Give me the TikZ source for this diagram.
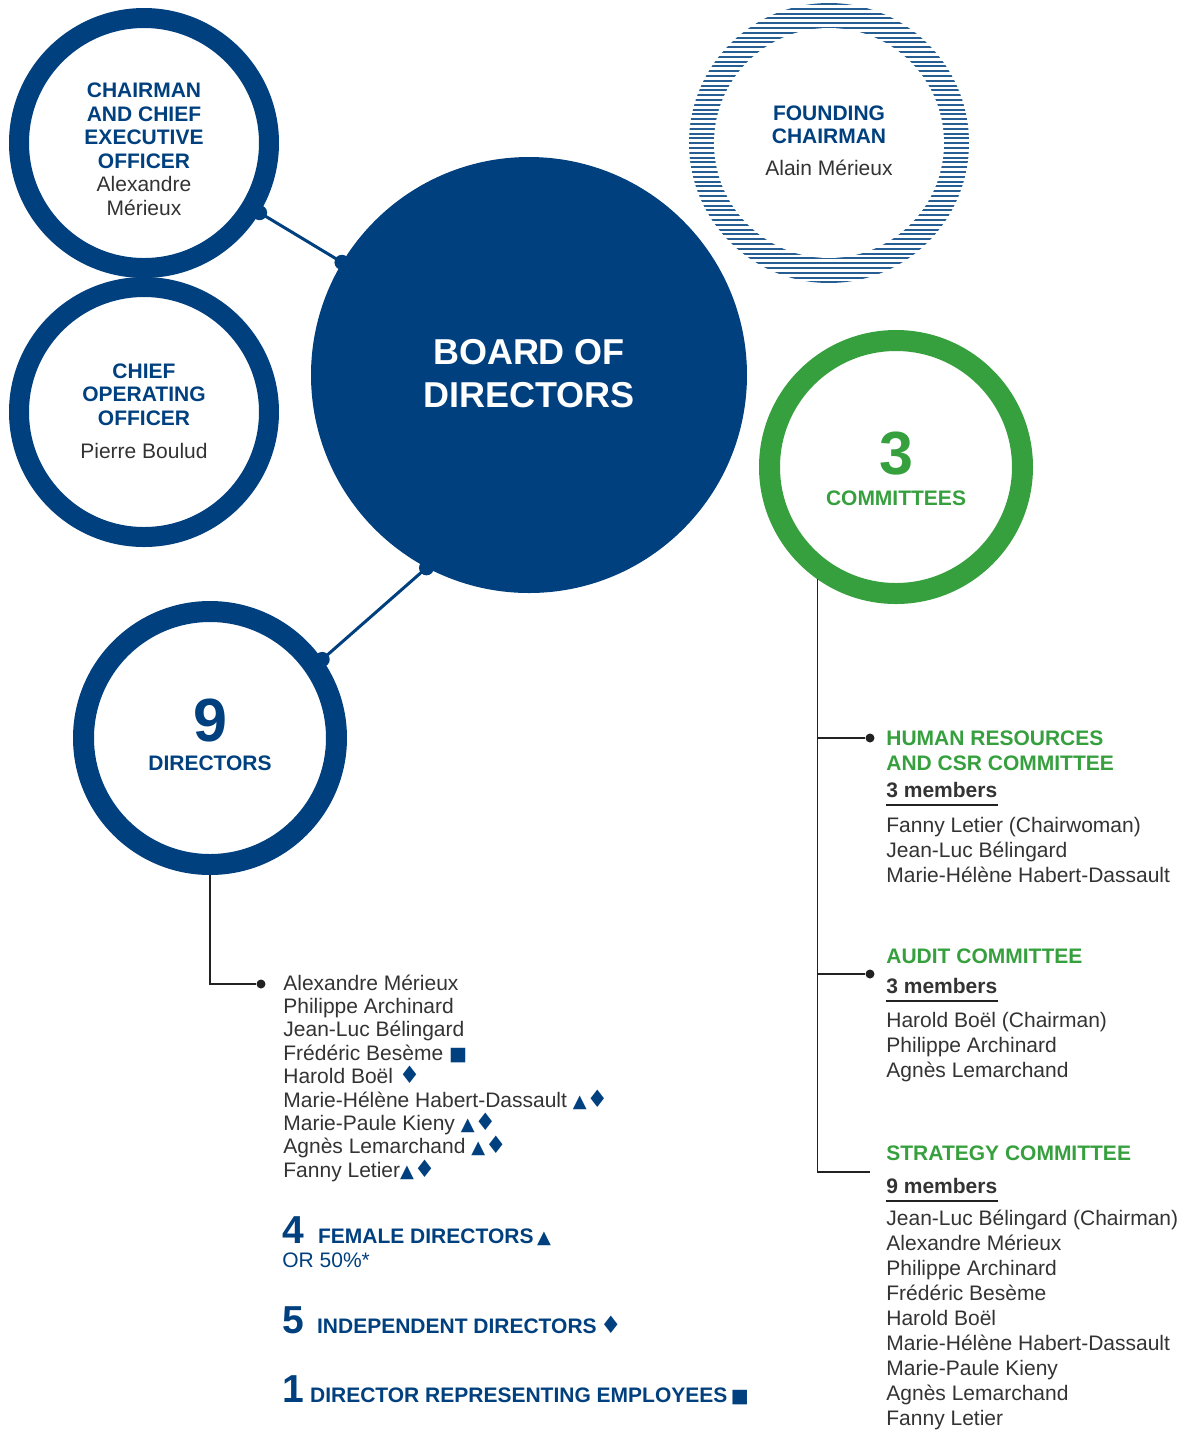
\documentclass[tikz,border=0pt]{standalone}
\usepackage{fontspec}
\setmainfont{Liberation Sans}
\newfontfamily\symfont{DejaVu Sans}
\usetikzlibrary{positioning}

\definecolor{boardblue}{HTML}{00407F}
\definecolor{comgreen}{HTML}{37A03E}
\definecolor{txtgray}{HTML}{333333}
\definecolor{linegray}{HTML}{222222}

% small markers after the names
\newcommand{\tri}{{\color{boardblue}\symfont\fontsize{9}{8}\selectfont ▲}}
\newcommand{\dia}{{\color{boardblue}\symfont\fontsize{12}{8}\selectfont ♦}}
\newcommand{\sqr}{{\color{boardblue}\symfont\fontsize{9.5}{8}\selectfont ■}}
\newcommand{\pers}[1]{{\mdseries\color{txtgray}#1}}
\newcommand{\bignum}[1]{{\fontsize{19.5}{20}\selectfont #1}}

\tikzset{
  ring/.style={circle, draw=boardblue, line width=10pt, fill=white, inner sep=0pt, minimum size=125pt},
  bigring/.style={ring, line width=10.5pt, minimum size=126.5pt},
  dot/.style={circle, fill=boardblue, inner sep=0pt, minimum size=7.5pt},
  smalldot/.style={circle, fill=linegray, inner sep=0pt, minimum size=4.5pt},
  link/.style={boardblue, line width=1.5pt},
  tree/.style={linegray, line width=0.75pt},
  stripe/.style={boardblue!85, line width=1pt},
  head/.style={font=\bfseries\fontsize{10.5}{11.75}\selectfont, text=boardblue, align=center, inner sep=0pt, anchor=base},
  plain/.style={font=\fontsize{10.5}{11.7}\selectfont, text=txtgray, align=left, inner sep=0pt, anchor=base west},
  comhead/.style={font=\bfseries\fontsize{10.5}{12.5}\selectfont, text=comgreen, align=left, inner sep=0pt, anchor=base west},
  members/.style={font=\bfseries\fontsize{10.5}{12.5}\selectfont, text=txtgray, inner sep=0pt, anchor=base west},
  memberlist/.style={plain, font=\fontsize{10.5}{12.5}\selectfont},
  stat/.style={font=\bfseries\fontsize{10.5}{12}\selectfont, text=boardblue, inner sep=0pt, anchor=base west},
}

\begin{document}
\begin{tikzpicture}[x=0.5pt, y=-0.5pt]
    \useasboundingbox[fill=white] (0,0) rectangle (1190,1432);

    % founding chairman, striped ring
    \begin{scope}
        \clip (829,143) circle (70pt);
        \foreach \k in {0,...,58} \draw[stripe] (680,{4+4.8*\k}) -- (980,{4+4.8*\k});
    \end{scope}
    \fill[white] (829,143) circle (57.5pt);
    % multi-line labels sit on the baseline of their last line
    \node[head] (found) at (829,175) {FOUNDING\\CHAIRMAN\\[4pt]\pers{Alain Mérieux}};

    % circles
    \node[ring] (ceo) at (144,143) {};
    \node[ring] (coo) at (144,412) {};
    \node[bigring] (dirs) at (210,738) {};
    \node[bigring, draw=comgreen] (com) at (896,467) {};
    \node[circle, fill=boardblue, inner sep=0pt, minimum size=218pt] (board) at (529,375) {};

    \node[head] (ceolbl) at (144,215) {CHAIRMAN\\AND CHIEF\\EXECUTIVE\\OFFICER\\\pers{Alexandre}\\\pers{Mérieux}};
    \node[head] (coolbl) at (144,458) {CHIEF\\OPERATING\\OFFICER\\[4.75pt]\pers{Pierre Boulud}};
    \node[head, text=white, font=\bfseries\fontsize{18}{21.5}\selectfont] (boardlbl) at (529,407) {BOARD OF\\DIRECTORS};
    \node[head, font=\bfseries\fontsize{30.5}{30}\selectfont] (dirnum) at (210,741) {9};
    \node[head] (dirlbl) at (210,770) {DIRECTORS};
    \node[head, text=comgreen, font=\bfseries\fontsize{30.5}{30}\selectfont] (comnum) at (896,474) {3};
    \node[head, text=comgreen] (comlbl) at (896,505) {COMMITTEES};

    % links to the board
    \draw[link] (ceo) -- (board) node[dot, pos=0] (ceodot) {} node[dot, pos=1] (bdot1) {};
    \draw[link] (dirs.35) -- (board.242) node[dot, pos=0] (dirsdot) {} node[dot, pos=1] (bdot2) {};

    % directors list
    \node[smalldot] (dirdot) at (261,984) {};
    \draw[tree] (dirs.south) |- (dirdot);
    \foreach \nm [count=\i] in {Alexandre Mérieux, Philippe Archinard, Jean-Luc Bélingard,
        Frédéric Besème \sqr, Harold Boël \dia, Marie-Hélène Habert-Dassault \tri\dia,
        Marie-Paule Kieny \tri\dia, Agnès Lemarchand \tri\dia, Fanny Letier\tri\dia}
        \node[plain] (dir\i) at (283,{990+23.4*(\i-1)}) {\nm};

    \node[stat] (fem) at (282,1243) {\bignum{4}\hspace{7pt}FEMALE DIRECTORS\,\tri};
    \node[plain, text=boardblue] (pct) at (282,1267) {OR 50\%*};
    \node[stat] (ind) at (282,1333) {\bignum{5}\hspace{6.5pt}INDEPENDENT DIRECTORS\,\dia};
    \node[stat] (emp) at (282,1402) {\bignum{1}\hspace{3pt}DIRECTOR REPRESENTING EMPLOYEES\,\sqr};

    % committees
    \node[smalldot] (hrdot) at (870,738) {};
    \node[smalldot] (audot) at (870,974) {};
    \coordinate (stend) at (870,1172);
    \draw[tree] (com.235) |- (hrdot);
    \draw[tree] (com.235) |- (audot);
    \draw[tree] (com.235) |- (stend);

    \node[comhead] (hrhead) at (886,770) {HUMAN RESOURCES\\AND CSR COMMITTEE};
    \node[members] (hrnum) at (886,797) {3 members};
    \draw[tree] ([yshift=-4pt]hrnum.base west) -- ([yshift=-4pt]hrnum.base east);
    \node[memberlist] (hrlist) at (886,882) {Fanny Letier (Chairwoman)\\Jean-Luc Bélingard\\Marie-Hélène Habert-Dassault};

    \node[comhead] (auhead) at (886,963) {AUDIT COMMITTEE};
    \node[members] (aunum) at (886,993) {3 members};
    \draw[tree] ([yshift=-4pt]aunum.base west) -- ([yshift=-4pt]aunum.base east);
    \node[memberlist] (aulist) at (886,1077) {Harold Boël (Chairman)\\Philippe Archinard\\Agnès Lemarchand};

    \node[comhead] (sthead) at (886,1160) {STRATEGY COMMITTEE};
    \node[members] (stnum) at (886,1193) {9 members};
    \draw[tree] ([yshift=-4pt]stnum.base west) -- ([yshift=-4pt]stnum.base east);
    \node[memberlist] (stlist) at (886,1425) {Jean-Luc Bélingard (Chairman)\\Alexandre Mérieux\\Philippe Archinard\\Frédéric Besème\\Harold Boël\\Marie-Hélène Habert-Dassault\\Marie-Paule Kieny\\Agnès Lemarchand\\Fanny Letier};
\end{tikzpicture}
\end{document}
